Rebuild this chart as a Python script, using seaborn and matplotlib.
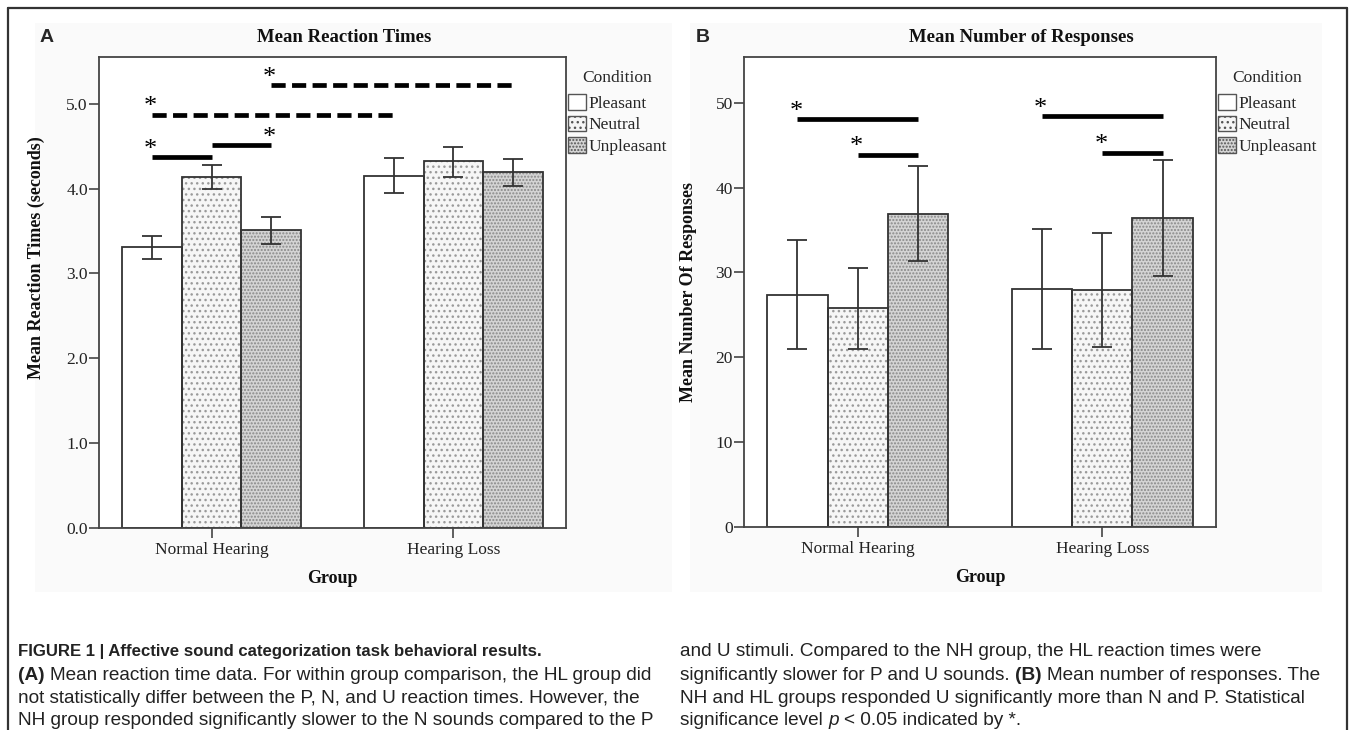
import matplotlib
matplotlib.use("Agg")
import pandas as pd
import seaborn as sns
import matplotlib.pyplot as plt
from matplotlib.lines import Line2D
from matplotlib.patches import Rectangle, Patch

# data
groups = ["Normal Hearing", "Hearing Loss"]
conditions = ["Pleasant", "Neutral", "Unpleasant"]

# panel A - mean reaction times (seconds), order: group x condition
rt_mean = [3.31, 4.14, 3.51, 4.15, 4.32, 4.19]
rt_low = [3.17, 3.99, 3.35, 3.95, 4.14, 4.03]
rt_high = [3.44, 4.28, 3.66, 4.36, 4.49, 4.35]
rt_ticks = [0, 1, 2, 3, 4, 5]

# panel B - mean number of responses
resp_mean = [27.4, 25.8, 36.9, 28.1, 27.9, 36.4]
resp_low = [21.0, 21.0, 31.4, 21.0, 21.2, 29.6]
resp_high = [33.8, 30.5, 42.5, 35.1, 34.7, 43.3]
resp_ticks = [0, 10, 20, 30, 40, 50]

# significance bars: (group, condition) at each end, height, dashed, star side
rt_sig_start = [(0, 0), (0, 1), (0, 0), (0, 2)]
rt_sig_end = [(0, 1), (0, 2), (1, 0), (1, 2)]
rt_sig_y = [4.37, 4.51, 4.87, 5.22]
rt_sig_dashed = [False, False, True, True]
rt_sig_star = ["left", "right", "left", "left"]

resp_sig_start = [(0, 0), (0, 1), (1, 0), (1, 1)]
resp_sig_end = [(0, 2), (0, 2), (1, 2), (1, 2)]
resp_sig_y = [48.1, 43.9, 48.4, 44.1]
resp_sig_dashed = [False, False, False, False]
resp_sig_star = ["left", "left", "left", "left"]

bar_faces = ["#ffffff", "#f6f6f6", "#d4d4d4"]
bar_hatches = ["", "...", "....."]
hatch_colors = ["#ffffff", "#9a9a9a", "#888888"]

caption_left = [
    [("FIGURE 1 | Affective sound categorization task behavioral results.", "bold", "normal")],
    [("(A)", "bold", "normal"), ("Mean reaction time data. For within group comparison, the HL group did", "normal", "normal")],
    [("not statistically differ between the P, N, and U reaction times. However, the", "normal", "normal")],
    [("NH group responded significantly slower to the N sounds compared to the P", "normal", "normal")],
]
caption_right = [
    [("and U stimuli. Compared to the NH group, the HL reaction times were", "normal", "normal")],
    [("significantly slower for P and U sounds.", "normal", "normal"), ("(B)", "bold", "normal"), ("Mean number of responses. The", "normal", "normal")],
    [("NH and HL groups responded U significantly more than N and P. Statistical", "normal", "normal")],
    [("significance level", "normal", "normal"), ("p", "normal", "italic"), ("< 0.05 indicated by *.", "normal", "normal")],
]

sns.set_theme(style="ticks")
plt.rcParams["font.family"] = ["Liberation Serif", "DejaVu Serif"]
plt.rcParams["hatch.linewidth"] = 1.0

W, H = 1355, 730
fig = plt.figure(figsize=(W / 100, H / 100), dpi=100)
fig.patch.set_facecolor("white")


def fx(px):
    return px / W


def fy(py):
    return 1 - py / H


ink = "#333333"

# outer frame and light chart backgrounds
for xs, ys in [((8, 1347), (8, 8)), ((8, 8), (8, 730)), ((1347, 1347), (8, 730))]:
    fig.add_artist(Line2D([fx(x) for x in xs], [fy(y) for y in ys], color=ink, lw=1.6))
for x0, x1 in [(35, 672), (690, 1322)]:
    fig.add_artist(Rectangle((fx(x0), fy(592)), fx(x1) - fx(x0), fy(23) - fy(592),
                             transform=fig.transFigure, facecolor="#fafafa",
                             edgecolor="none", zorder=-5))


def panel(rect, means, lows, highs, ticks, fmt, ylim, title, title_x, ylabel, ylabel_xy,
          sig_start, sig_end, sig_y, sig_dashed, sig_star):
    ax = fig.add_axes(rect)
    ax.set_facecolor("white")
    df = pd.DataFrame({
        "Group": [g for g in groups for c in conditions],
        "Condition": [c for g in groups for c in conditions],
        "Mean": means,
    })
    # hatch layer
    sns.barplot(data=df, x="Group", y="Mean", hue="Condition", order=groups,
                hue_order=conditions, palette=bar_faces, errorbar=None,
                width=0.74, legend=False, ax=ax)
    for ci, cont in enumerate(ax.containers):
        for bar in cont:
            bar.set_hatch(bar_hatches[ci])
            bar.set_edgecolor(hatch_colors[ci])
            bar.set_linewidth(0)
    # outline layer
    sns.barplot(data=df, x="Group", y="Mean", hue="Condition", order=groups,
                hue_order=conditions, palette=bar_faces, errorbar=None,
                width=0.74, legend=False, ax=ax)
    outline = ax.containers[len(conditions):]
    for cont in outline:
        for bar in cont:
            bar.set_facecolor("none")
            bar.set_edgecolor(ink)
            bar.set_linewidth(1.3)

    def center(g, c):
        bar = ax.containers[c][g]
        return bar.get_x() + bar.get_width() / 2

    xs, ms, lo, hi = [], [], [], []
    for gi in range(len(groups)):
        for ci in range(len(conditions)):
            k = gi * len(conditions) + ci
            xs.append(center(gi, ci))
            ms.append(means[k])
            lo.append(means[k] - lows[k])
            hi.append(highs[k] - means[k])
    ax.errorbar(xs, ms, yerr=[lo, hi], fmt="none", ecolor=ink, elinewidth=1.3,
                capsize=7, capthick=1.3, zorder=5)

    # significance markers
    for s, e, y, dashed, side in zip(sig_start, sig_end, sig_y, sig_dashed, sig_star):
        x0, x1 = center(*s), center(*e)
        ln = ax.plot([x0, x1], [y, y], color="black", lw=3.4, solid_capstyle="butt",
                     dash_capstyle="butt", zorder=6)[0]
        if dashed:
            ln.set_dashes((3.0, 1.35))
        sx = x0 if side == "left" else x1
        ax.annotate("*", xy=(sx, y), xytext=(-1, 1), textcoords="offset points",
                    ha="center", va="baseline", fontsize=19, color="black")

    ax.set_xlim(-0.465, 1.465)
    ax.set_ylim(*ylim)
    ax.set_yticks(ticks)
    ax.set_yticklabels([fmt.format(t) for t in ticks])
    for sp in ax.spines.values():
        sp.set_visible(True)
        sp.set_color("#444444")
        sp.set_linewidth(1.3)
    ax.tick_params(axis="both", direction="out", length=7, width=1.2, color="#444444",
                   labelsize=12.5, labelcolor="#222222", pad=1)
    ax.tick_params(axis="x", pad=3)
    ax.set_xlabel("Group", fontsize=13, fontweight="bold", color="#111111", labelpad=9)
    ax.set_ylabel(ylabel, fontsize=13, fontweight="bold", color="#111111")
    ax.yaxis.set_label_coords(*ylabel_xy)
    ax.text(title_x, 1.042, title, transform=ax.transAxes, ha="center", va="center",
            fontsize=13.5, fontweight="bold", color="#111111")

    handles = [Patch(facecolor=bar_faces[i], edgecolor="#555555", hatch=bar_hatches[i],
                     lw=1.0) for i in range(len(conditions))]
    leg = ax.legend(handles, conditions, title="Condition", loc="upper left",
                    bbox_to_anchor=(1.005, 0.973), frameon=False, fontsize=12.5,
                    title_fontsize=12.5, handlelength=1.0, handleheight=1.0,
                    handletextpad=0.15, labelspacing=0.22, borderpad=0,
                    borderaxespad=0)
    leg._legend_box.sep = 6
    return ax


panel([fx(99), fy(528), fx(566) - fx(99), fy(57) - fy(528)], rt_mean, rt_low, rt_high,
      rt_ticks, "{:.1f}", (0, 5.55), "Mean Reaction Times", 0.525,
      "Mean Reaction Times (seconds)", (-0.115, 0.573),
      rt_sig_start, rt_sig_end, rt_sig_y, rt_sig_dashed, rt_sig_star)
panel([fx(744), fy(527), fx(1216) - fx(744), fy(57) - fy(527)], resp_mean, resp_low,
      resp_high, resp_ticks, "{:d}", (0, 55.4), "Mean Number of Responses", 0.587,
      "Mean Number Of Responses", (-0.10, 0.50),
      resp_sig_start, resp_sig_end, resp_sig_y, resp_sig_dashed, resp_sig_star)

# panel letters
fig.text(fx(40), fy(37), "A", fontsize=14, fontweight="bold", family="Liberation Sans",
         va="center", ha="left")
fig.text(fx(696), fy(37), "B", fontsize=14, fontweight="bold", family="Liberation Sans",
         va="center", ha="left")

# caption
renderer = fig.canvas.get_renderer()
cap_size = 13.7
space_px = 0.278 * cap_size * 100 / 72
line_y = [656, 680, 703, 725]


def draw_lines(x_px, lines):
    for li, (y, segs) in enumerate(zip(line_y, lines)):
        x = x_px
        for txt, weight, style in segs:
            size = cap_size
            if li == 0 and weight == "bold":
                # caption heading is set tighter than the body text
                size = 12.1
            t = fig.text(fx(x), fy(y), txt, fontsize=size, fontweight=weight,
                         fontstyle=style, family="Liberation Sans", color="#222222",
                         va="baseline", ha="left")
            x += t.get_window_extent(renderer).width + space_px


draw_lines(18, caption_left)
draw_lines(680, caption_right)

fig.savefig("out.png", dpi=100)
